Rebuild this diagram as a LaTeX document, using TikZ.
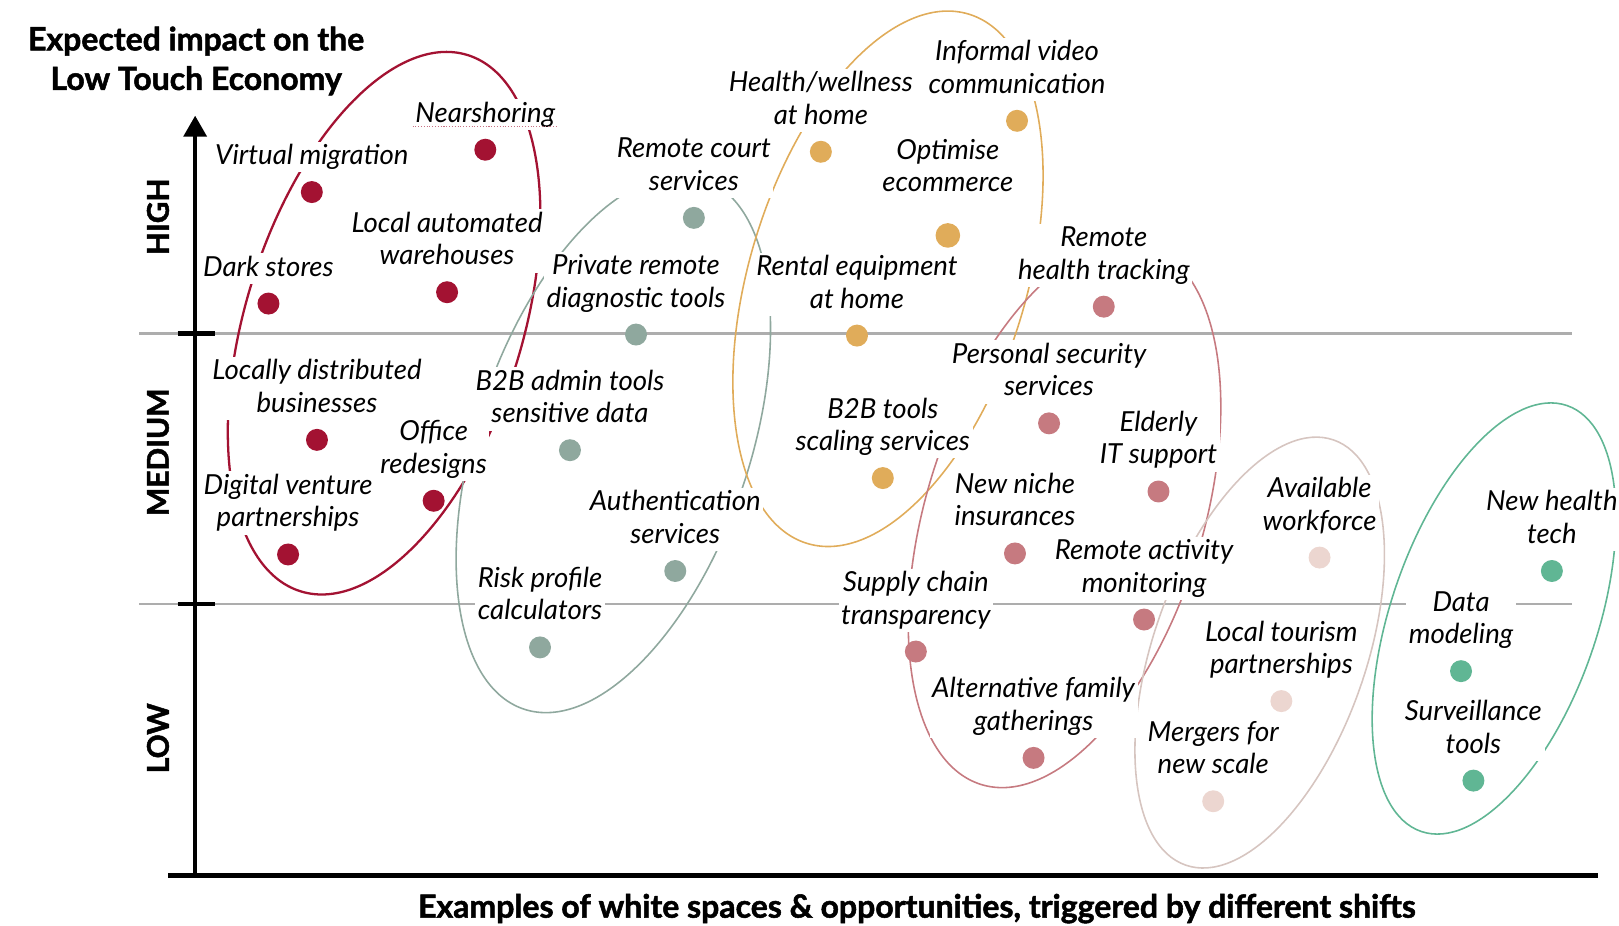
\documentclass[tikz,border=0pt]{standalone}
\usepackage{fontspec}
\setmainfont{Lato}
\newfontfamily\heavyfont{Lato}[BoldFeatures={FakeBold=1.6}]
\usepackage{tikz}
\usetikzlibrary{positioning, arrows.meta}

\definecolor{crimson}{RGB}{163,18,50}
\definecolor{sage}{RGB}{143,168,158}
\definecolor{ochre}{RGB}{224,172,90}
\definecolor{dustrose}{RGB}{198,122,128}
\definecolor{blush}{RGB}{236,214,208}
\definecolor{jade}{RGB}{96,182,148}

\tikzset{
	itemtext/.style={font=\fontsize{15.7}{18.5}\selectfont\itshape, align=center,
		fill=white, inner sep=1.5pt, text depth=0.3em}
}
\tikzset{
	headtext/.style={font=\fontsize{18.2}{22.5}\selectfont\heavyfont\bfseries, align=center}
}

\begin{document}
\begin{tikzpicture}[x=0.02065cm, y=-0.02065cm]

\tikzset{
    spot/.style={
        shape=circle,
        fill=#1,
        minimum size=12.5pt,
        inner sep=0pt
    },
    ring/.style={draw=#1, line width=0.9pt},
    level/.style={draw=black!32, line width=1.2pt},
    axis/.style={line width=2.4pt}
}

\useasboundingbox (0,0) rectangle (1568,896);

% levels and axes
\coordinate (hl) at (135,323);
\coordinate (hr) at (1522,323);
\coordinate (ml) at (135,585);
\coordinate (mr) at (1522,585);
\draw[level] (hl) -- (hr);
\draw[level] (ml) -- (mr);

\coordinate (o) at (189,848);
\coordinate (ytop) at (189,112);
\coordinate (xl) at (163,848);
\coordinate (xr) at (1548,848);
\coordinate (t1l) at (172,323);
\coordinate (t1r) at (208,323);
\coordinate (t2l) at (172,585);
\coordinate (t2r) at (208,585);
\draw[axis, -{Triangle[width=13pt,length=12pt]}] (o) -- (ytop);
\draw[axis] (xl) -- (xr);
\draw[axis] (t1l) -- (t1r);
\draw[axis] (t2l) -- (t2r);

% groups
\draw[ring=crimson, line width=1.3pt, rotate around={72.7:(372,313)}] (372,313) ellipse [x radius=272, y radius=134];
\draw[ring=sage, rotate around={71.3:(594,430)}] (594,430) ellipse [x radius=271, y radius=132];
\draw[ring=ochre, rotate around={73:(860,270)}] (860,270) ellipse [x radius=268, y radius=134];
\draw[ring=dustrose, rotate around={72.8:(1031,499)}] (1031,499) ellipse [x radius=273, y radius=134];
\draw[ring=blush!80!gray, rotate around={70.8:(1220,632)}] (1220,632) ellipse [x radius=218, y radius=103];
\draw[ring=jade, rotate around={71.1:(1447,599)}] (1447,599) ellipse [x radius=218, y radius=100];

\node[spot=crimson] (nsh) at (470,145) {};
\node[spot=crimson] (vmig) at (302,186) {};
\node[spot=crimson] (law) at (433,283) {};
\node[spot=crimson] (dks) at (260,294) {};
\node[spot=crimson] (ldb) at (307,426) {};
\node[spot=crimson] (ofr) at (420,485) {};
\node[spot=crimson] (dvp) at (279,537) {};

\node[spot=sage] (rcs) at (672,211) {};
\node[spot=sage] (prd) at (616,324) {};
\node[spot=sage] (bad) at (552,436) {};
\node[spot=sage] (aus) at (654,553) {};
\node[spot=sage] (rpc) at (523,627) {};

\node[spot=ochre] (hwh) at (795,147) {};
\node[spot=ochre] (ivc) at (985,117) {};
\node[spot=ochre, minimum size=14pt] (oec) at (918,228) {};
\node[spot=ochre] (req) at (830,325) {};
\node[spot=ochre] (bts) at (855,463) {};

\node[spot=dustrose] (rht) at (1069,297) {};
\node[spot=dustrose] (pss) at (1016,410) {};
\node[spot=dustrose] (eit) at (1122,476) {};
\node[spot=dustrose] (nni) at (983,536) {};
\node[spot=dustrose] (ram) at (1108,600) {};
\node[spot=dustrose] (sct) at (887,631) {};
\node[spot=dustrose] (afg) at (1001,734) {};

\node[spot=blush] (avw) at (1278,540) {};
\node[spot=blush] (ltp) at (1241,679) {};
\node[spot=blush] (mns) at (1175,776) {};

\node[spot=jade] (nht) at (1503,553) {};
\node[spot=jade] (dmo) at (1415,650) {};
\node[spot=jade] (svt) at (1427,756) {};

% labels
\node[itemtext, above=4.5pt of nsh] (lnsh) {Nearshoring};
\node[itemtext, above=4.5pt of vmig] (lvmig) {Virtual migration};
\node[itemtext, above=4.5pt of law] (llaw) {Local automated\\warehouses};
\node[itemtext, above=4.5pt of dks] (ldks) {Dark stores};
\node[itemtext, above=4.5pt of ldb] (lldb) {Locally distributed\\businesses};
\node[itemtext, above=4.5pt of ofr] (lofr) {Office\\redesigns};
\node[itemtext, above=4.5pt of dvp] (ldvp) {Digital venture\\partnerships};

\node[itemtext, above=4.5pt of rcs] (lrcs) {Remote court\\services};
\node[itemtext, above=4.5pt of prd] (lprd) {Private remote\\diagnostic tools};
\node[itemtext, above=4.5pt of bad] (lbad) {B2B admin tools\\sensitive data};
\node[itemtext, above=4.5pt of aus] (laus) {Authentication\\services};
\node[itemtext, above=4.5pt of rpc] (lrpc) {Risk profile\\calculators};

\node[itemtext, above=4.5pt of hwh] (lhwh) {Health/wellness\\at home};
\node[itemtext, above=4.5pt of ivc] (livc) {Informal video\\communication};
\node[itemtext, above=13pt of oec] (loec) {Optimise\\ecommerce};
\node[itemtext, above=4.5pt of req] (lreq) {Rental equipment\\at home};
\node[itemtext, above=4.5pt of bts] (lbts) {B2B tools\\scaling services};

\node[itemtext, above=4.5pt of rht] (lrht) {Remote\\health tracking};
\node[itemtext, above=4.5pt of pss] (lpss) {Personal security\\services};
\node[itemtext, above=4.5pt of eit] (leit) {Elderly\\IT support};
\node[itemtext, above=4.5pt of nni] (lnni) {New niche\\insurances};
\node[itemtext, above=4.5pt of ram] (lram) {Remote activity\\monitoring};
\node[itemtext, above=4.5pt of sct] (lsct) {Supply chain\\transparency};
\node[itemtext, above=4.5pt of afg] (lafg) {Alternative family\\gatherings};

\node[itemtext, above=4.5pt of avw] (lavw) {Available\\workforce};
\node[itemtext, above=4.5pt of ltp] (lltp) {Local tourism\\partnerships};
\node[itemtext, above=4.5pt of mns] (lmns) {Mergers for\\new scale};

\node[itemtext, above=4.5pt of nht] (lnht) {New health\\tech};
\node[itemtext, above=4.5pt of dmo] (ldmo) {Data\\modeling};
\node[itemtext, above=4.5pt of svt] (lsvt) {Surveillance\\tools};

\draw[crimson!60, densely dotted, line width=0.6pt] ([yshift=-2.5pt]lnsh.base west) -- ([yshift=-2.5pt]lnsh.base east);

% axis titles
\node[headtext] (ytitle) at (190,59) {Expected impact on the\\Low Touch Economy};
\node[headtext] (xtitle) at (888,880) {Examples of white spaces \& opportunities, triggered by different shifts};
\node[headtext, font=\fontsize{17}{20}\selectfont\heavyfont\bfseries, rotate=90] (lhigh) at (153,210) {HIGH};
\node[headtext, font=\fontsize{17}{20}\selectfont\heavyfont\bfseries, rotate=90] (lmed) at (153,438) {MEDIUM};
\node[headtext, font=\fontsize{17}{20}\selectfont\heavyfont\bfseries, rotate=90] (llow) at (153,715) {LOW};
\end{tikzpicture}
\end{document}
